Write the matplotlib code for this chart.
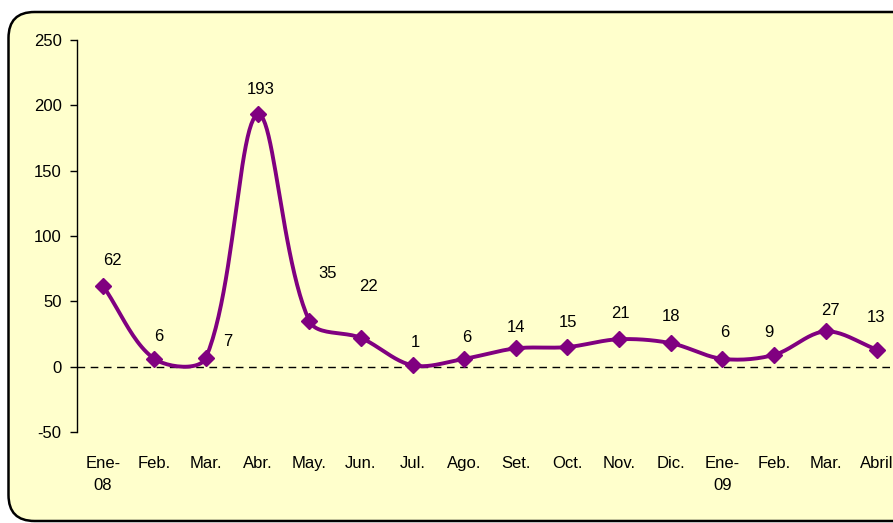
import numpy as np
import matplotlib
matplotlib.use("Agg")
import matplotlib.pyplot as plt
from matplotlib.patches import FancyBboxPatch
from matplotlib.transforms import IdentityTransform

# ---- data ----
months = ["Ene-\n08", "Feb.", "Mar.", "Abr.", "May.", "Jun.", "Jul.", "Ago.",
          "Set.", "Oct.", "Nov.", "Dic.", "Ene-\n09", "Feb.", "Mar.", "Abril"]
values = [62, 6, 7, 193, 35, 22, 1, 6, 14, 15, 21, 18, 6, 9, 27, 13]
yticks = [-50, 0, 50, 100, 150, 200, 250]

# label offsets in pixels (dx, dy)
label_offsets = [(10, 25), (4, 22), (22, 16), (3, 25), (18, 47), (8, 51), (3, 23),
                 (3, 21), (0, 21), (1, 25), (1, 26), (0, 27), (2, 26), (-5, 22),
                 (5, 21), (-1, 32)]

plt.rcParams['font.family'] = ['Liberation Sans', 'DejaVu Sans']

W, H = 893, 523
fig = plt.figure(figsize=(W / 100, H / 100), dpi=100, facecolor="white")

# rounded border background
box = FancyBboxPatch((8.5, 2), 920, 509, boxstyle="round,pad=0,rounding_size=26",
                     transform=IdentityTransform(), facecolor="#FFFFCC",
                     edgecolor="black", linewidth=1.8, zorder=-10)
fig.patches.append(box)

ax_l, ax_r, ax_b, ax_t = 77, 903, 91, 483
ax = fig.add_axes([ax_l / W, ax_b / H, (ax_r - ax_l) / W, (ax_t - ax_b) / H])
ax.set_facecolor("none")
ax.set_zorder(1)

xlim = (-0.5, 15.5)
ylim = (-50, 250)
x = np.arange(len(values), dtype=float)
y = np.array(values, dtype=float)

# pixel scales for Excel-like smoothing
kx = (ax_r - ax_l) / (xlim[1] - xlim[0])
ky = (ax_t - ax_b) / (ylim[1] - ylim[0])


def excel_smooth(xs, ys, n=24):
    P = np.column_stack([xs * kx, ys * ky])
    m = len(P)
    out = []
    for i in range(m - 1):
        p0 = P[i - 1] if i > 0 else P[i]
        p1, p2 = P[i], P[i + 1]
        p3 = P[i + 2] if i + 2 < m else P[i + 1]
        d01 = np.linalg.norm(p1 - p0)
        d12 = np.linalg.norm(p2 - p1)
        d23 = np.linalg.norm(p3 - p2)
        f1 = d12 / (d01 + d12) / 3 if d01 + d12 > 0 else 0
        f2 = d12 / (d12 + d23) / 3 if d12 + d23 > 0 else 0
        c1 = p1 + (p2 - p0) * f1
        c2 = p2 - (p3 - p1) * f2
        t = np.linspace(0, 1, n, endpoint=False)[:, None]
        seg = ((1 - t) ** 3) * p1 + 3 * ((1 - t) ** 2) * t * c1 + \
            3 * (1 - t) * t ** 2 * c2 + t ** 3 * p2
        out.append(seg)
    out.append(P[-1:])
    out = np.vstack(out)
    return out[:, 0] / kx, out[:, 1] / ky


sx, sy = excel_smooth(x, y)
purple = "#800080"
ax.plot(sx, sy, color=purple, linewidth=2.8, solid_joinstyle="round", zorder=3)
ax.plot(x, y, linestyle="none", marker="D", markersize=8, color=purple, zorder=4)

ax.axhline(0, color="black", linewidth=1, linestyle=(0, (5.5, 4)), zorder=2)

for xi, yi, (dx, dy) in zip(x, values, label_offsets):
    ax.annotate(str(yi), (xi, yi), xytext=(dx, dy), textcoords="offset pixels",
                ha="center", va="center", fontsize=12, color="black")

ax.set_xlim(*xlim)
ax.set_ylim(*ylim)
ax.set_yticks(yticks)
ax.set_yticklabels([str(v) for v in yticks], fontsize=12)
ax.set_xticks(x)
ax.set_xticklabels(months, fontsize=12, linespacing=1.65, va="top")
ax.tick_params(axis="x", length=0, pad=17)
ax.tick_params(axis="y", length=5, width=1, direction="out", pad=6)

for s in ["top", "right", "bottom"]:
    ax.spines[s].set_visible(False)
ax.spines["left"].set_linewidth(1)

fig.savefig("out.png", dpi=100, facecolor="white")
